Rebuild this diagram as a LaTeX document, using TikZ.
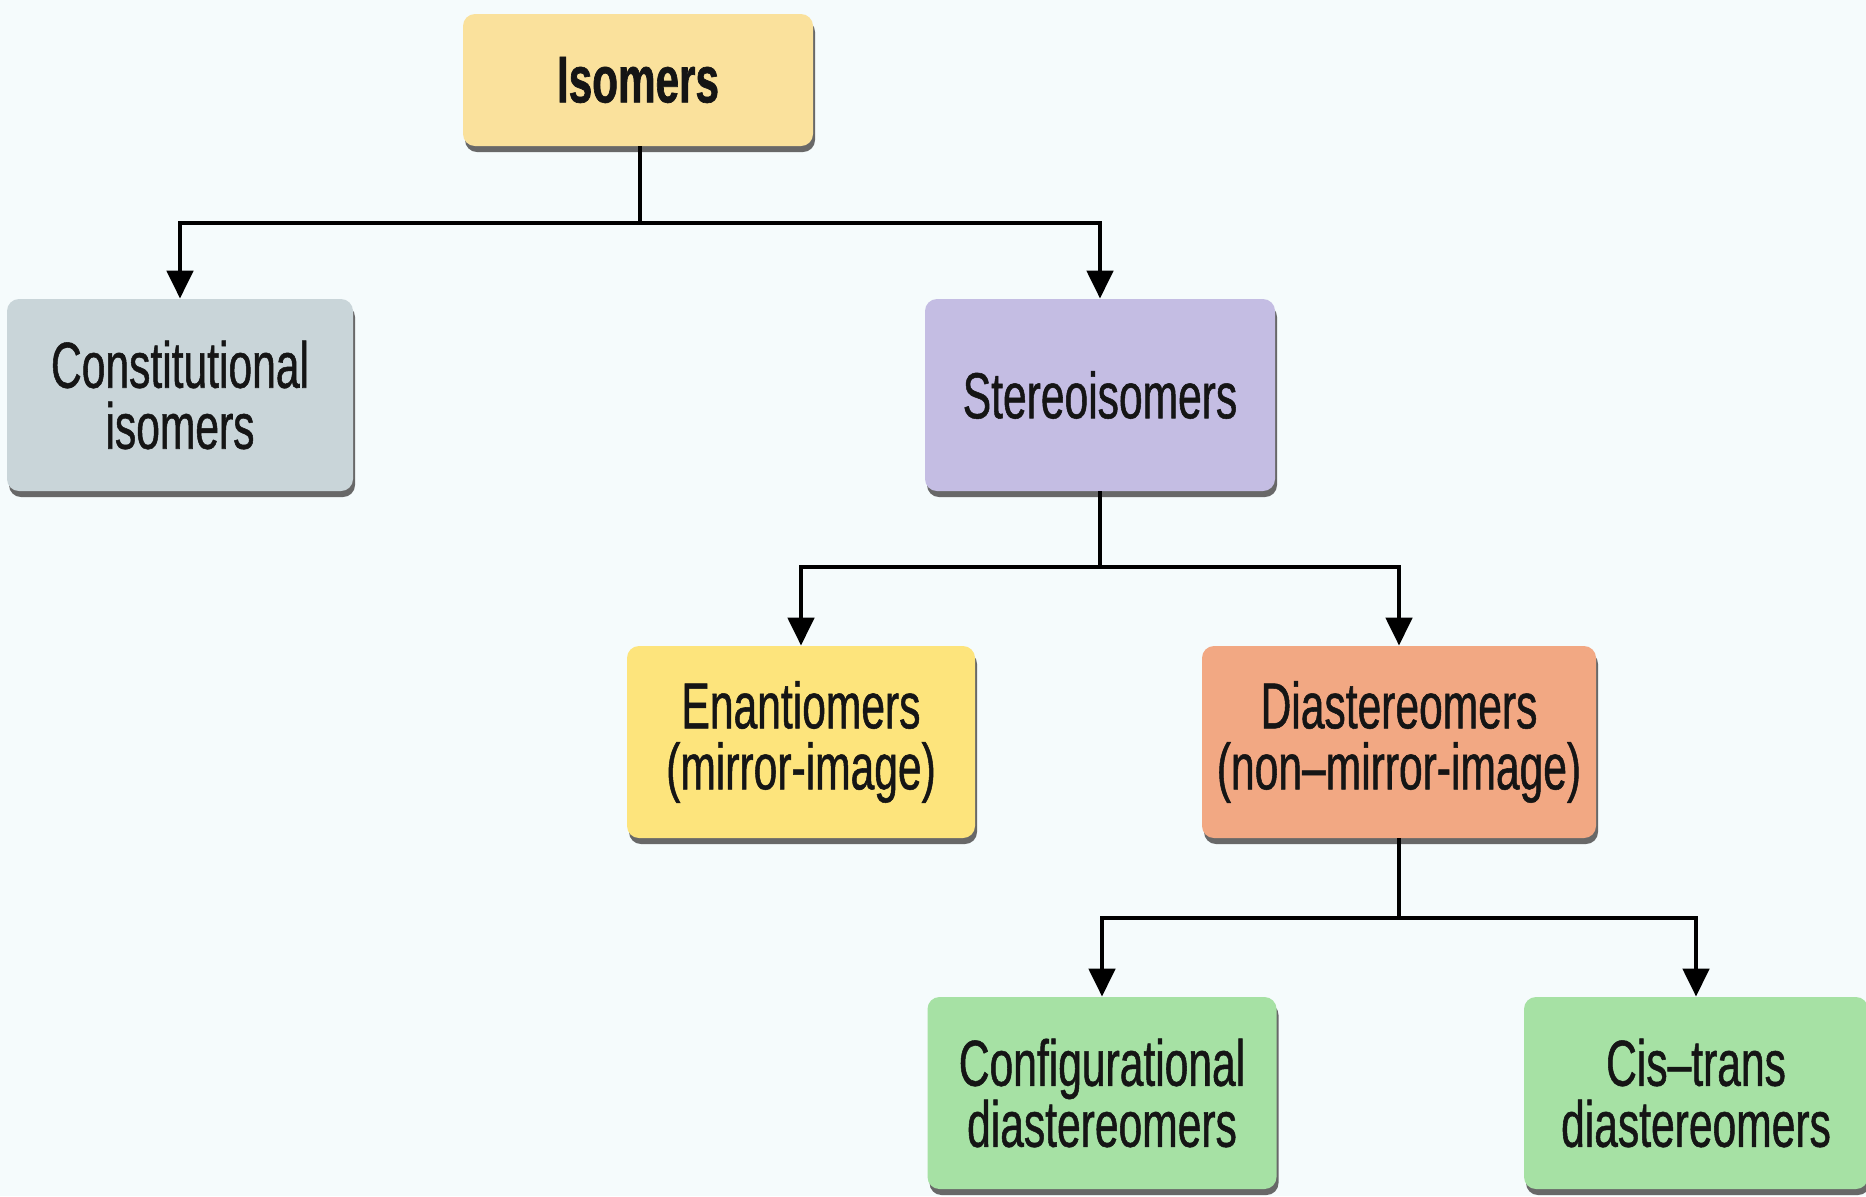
\documentclass[tikz,border=0pt]{standalone}
\usepackage{fontspec}
\setmainfont{Liberation Sans}[FakeStretch=0.655, FakeBold=0.8]
\newfontfamily\heavyfont{Liberation Sans Bold}[FakeStretch=0.64, FakeBold=1]
\usetikzlibrary{arrows.meta,shadows}
\definecolor{bgc}{HTML}{F5FBFC}
\definecolor{isoc}{HTML}{FAE19C}
\definecolor{constc}{HTML}{C9D5D9}
\definecolor{stereoc}{HTML}{C4BDE3}
\definecolor{enanc}{HTML}{FDE47C}
\definecolor{diac}{HTML}{F2A883}
\definecolor{greenc}{HTML}{A6E1A4}
\definecolor{txt}{HTML}{151515}
\begin{document}
\begin{tikzpicture}[x=0.5pt,y=-0.5pt,
  box/.style={rounded corners=6pt, align=center, inner sep=0pt,
    minimum width=174pt, minimum height=96pt, text=txt,
    font=\fontsize{32.5}{30.5}\selectfont,
    drop shadow={shadow xshift=1pt, shadow yshift=-3pt, fill=black!65, opacity=0.9}},
  conn/.style={line width=2.4pt, draw=black},
  arr/.style={conn, -{Triangle[width=13pt,length=14pt]}}]
\fill[bgc] (0,0) rectangle (1866,1196);
\useasboundingbox (0,0) rectangle (1866,1196);

\node[box, fill=isoc, minimum width=175pt, minimum height=66pt, font=\fontsize{33}{30.5}\selectfont\heavyfont] (iso) at (638,80) {Isomers};
\node[box, fill=constc, minimum width=173pt] (const) at (180,395) {Constitutional\\isomers};
\node[box, fill=stereoc, minimum width=175pt] (stereo) at (1100,395) {Stereoisomers};
\node[box, fill=enanc] (enan) at (801,742) {Enantiomers\\(mirror-image)};
\node[box, fill=diac, minimum width=197pt] (dia) at (1399,742) {Diastereomers\\(non–mirror-image)};
\node[box, fill=greenc, minimum width=174.5pt] (conf) at (1102,1093) {Configurational\\diastereomers};
\node[box, fill=greenc, minimum width=172pt] (cis) at (1696,1093) {Cis–trans\\diastereomers};

\coordinate (j1) at (640,223);
\coordinate (j2) at (1100,567);
\coordinate (j3) at (1399,918);

\draw[conn] (iso.south -| j1) -- (j1);
\draw[arr] (j1) -| (const.north);
\draw[arr] (j1) -| (stereo.north);

\draw[conn] (stereo.south) -- (j2);
\draw[arr] (j2) -| (enan.north);
\draw[arr] (j2) -| (dia.north);

\draw[conn] (dia.south) -- (j3);
\draw[arr] (j3) -| (conf.north);
\draw[arr] (j3) -| (cis.north);
\end{tikzpicture}
\end{document}
